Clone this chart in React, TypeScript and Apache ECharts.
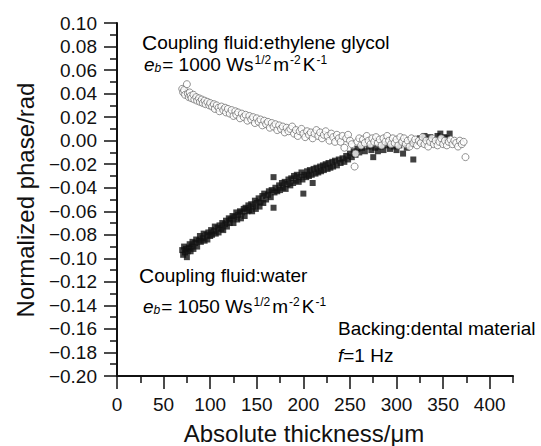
import React, { useEffect, useRef } from "react";
import * as echarts from "echarts";

// Coupling fluid: ethylene glycol (open circles) [thickness µm, phase rad]
const glycolData: number[][] = [
  [70, 0.044], [71, 0.041], [72, 0.043], [73, 0.039], [75, 0.048], [76, 0.040], [77, 0.037],
  [78, 0.041], [79, 0.038], [80, 0.036], [82, 0.039], [83, 0.035], [85, 0.037], [86, 0.034],
  [88, 0.036], [89, 0.033], [91, 0.035], [92, 0.032], [94, 0.034], [95, 0.031], [97, 0.033],
  [99, 0.030], [100, 0.032], [102, 0.029], [104, 0.031], [105, 0.027], [107, 0.030], [109, 0.028],
  [110, 0.025], [112, 0.029], [114, 0.026], [116, 0.028], [117, 0.024], [119, 0.027], [121, 0.023],
  [123, 0.026], [125, 0.021], [127, 0.025], [128, 0.022], [130, 0.024], [132, 0.019], [134, 0.023],
  [136, 0.020], [138, 0.022], [140, 0.017], [142, 0.021], [144, 0.018], [146, 0.020], [148, 0.015],
  [150, 0.019], [152, 0.016], [154, 0.018], [156, 0.013], [158, 0.017], [160, 0.014], [162, 0.016],
  [164, 0.011], [166, 0.015], [168, 0.012], [170, 0.014], [172, 0.009], [174, 0.013], [176, 0.010],
  [178, 0.012], [180, 0.007], [182, 0.011], [184, 0.008], [186, 0.010], [188, 0.012], [190, 0.006],
  [192, 0.009], [194, 0.004], [196, 0.008], [198, 0.010], [200, 0.006], [202, 0.003], [204, 0.008],
  [206, 0.005], [208, 0.007], [210, 0.002], [212, 0.006], [214, 0.009], [216, 0.004], [218, 0.007],
  [220, 0.002], [222, 0.005], [224, 0.008], [226, 0.004], [228, 0.000], [230, 0.006], [232, 0.003],
  [234, -0.001], [236, 0.005], [238, 0.002], [240, -0.001], [242, 0.004], [244, -0.006], [246, 0.002],
  [248, 0.005], [250, 0.000], [252, -0.003], [255, -0.022], [256, -0.011], [258, -0.001], [260, 0.002],
  [262, -0.004], [264, 0.001], [266, -0.002], [268, 0.004], [270, 0.000], [272, -0.003], [274, 0.002],
  [276, -0.001], [278, 0.003], [280, -0.002], [282, 0.001], [284, -0.004], [286, 0.002], [288, -0.001],
  [290, 0.004], [292, 0.000], [294, -0.003], [296, 0.002], [298, -0.002], [300, 0.001], [302, -0.004],
  [304, 0.003], [306, -0.001], [308, 0.002], [310, -0.003], [312, 0.000], [314, -0.005], [316, 0.002],
  [318, -0.002], [320, 0.001], [322, -0.004], [324, 0.000], [326, -0.002], [328, 0.003], [330, -0.003],
  [332, 0.000], [334, -0.005], [336, -0.001], [338, 0.002], [340, -0.003], [342, 0.000], [344, -0.004],
  [346, -0.001], [348, 0.002], [350, -0.003], [352, 0.000], [354, -0.004], [356, -0.001], [358, 0.001],
  [360, -0.003], [362, 0.000], [364, -0.002], [366, -0.005], [368, 0.000], [370, -0.003], [372, -0.001],
  [374, -0.014],
];

// Coupling fluid: water (filled squares)
const waterData: number[][] = [
  [70, -0.093], [71, -0.097], [72, -0.090], [73, -0.095], [74, -0.092], [75, -0.099], [76, -0.094],
  [77, -0.091], [78, -0.088], [79, -0.094], [80, -0.090], [81, -0.086], [82, -0.092], [84, -0.087],
  [85, -0.084], [86, -0.090], [88, -0.085], [89, -0.081], [90, -0.086], [92, -0.083], [93, -0.079],
  [94, -0.085], [96, -0.080], [97, -0.084], [98, -0.078], [100, -0.081], [101, -0.076], [102, -0.080],
  [104, -0.077], [105, -0.073], [106, -0.079], [108, -0.074], [109, -0.078], [110, -0.072], [112, -0.075],
  [113, -0.070], [114, -0.076], [116, -0.071], [117, -0.068], [118, -0.073], [120, -0.066], [121, -0.070],
  [122, -0.067], [124, -0.064], [125, -0.070], [126, -0.065], [128, -0.061], [129, -0.067], [130, -0.063],
  [132, -0.060], [133, -0.066], [134, -0.061], [136, -0.058], [137, -0.064], [138, -0.057], [140, -0.060],
  [141, -0.055], [142, -0.059], [144, -0.054], [145, -0.060], [146, -0.056], [148, -0.051], [149, -0.058],
  [150, -0.053], [152, -0.049], [153, -0.056], [154, -0.052], [156, -0.047], [157, -0.053], [158, -0.045],
  [160, -0.050], [162, -0.046], [163, -0.043], [165, -0.048], [166, -0.042], [168, -0.031], [168, -0.057],
  [169, -0.044], [170, -0.040], [172, -0.043], [174, -0.038], [175, -0.042], [177, -0.036], [178, -0.040],
  [180, -0.035], [181, -0.041], [183, -0.037], [184, -0.033], [186, -0.038], [187, -0.032], [189, -0.036],
  [190, -0.030], [192, -0.034], [193, -0.029], [195, -0.035], [196, -0.031], [198, -0.027], [199, -0.033],
  [200, -0.045], [201, -0.029], [203, -0.031], [204, -0.026], [206, -0.030], [207, -0.025], [209, -0.029],
  [210, -0.036], [211, -0.024], [213, -0.028], [214, -0.023], [216, -0.027], [218, -0.022], [219, -0.026],
  [221, -0.021], [222, -0.025], [224, -0.020], [226, -0.024], [227, -0.019], [229, -0.023], [231, -0.018],
  [232, -0.022], [234, -0.017], [236, -0.021], [238, -0.016], [240, -0.019], [242, -0.015], [244, -0.018],
  [246, -0.013], [248, -0.016], [250, -0.011], [252, -0.014], [254, -0.009], [256, -0.012], [258, -0.007],
  [260, -0.010], [263, -0.006], [266, -0.009], [270, -0.005], [273, -0.008], [275, -0.014], [277, -0.006],
  [280, -0.009], [283, -0.005], [286, -0.008], [290, -0.004], [293, -0.007], [297, -0.005], [300, -0.008],
  [303, -0.004], [307, -0.011], [311, -0.006], [315, -0.003], [318, -0.016], [322, -0.001], [325, 0.002],
  [328, -0.001], [330, 0.004], [333, 0.001], [336, 0.003], [340, 0.000], [344, 0.004], [347, 0.006],
  [351, 0.003], [354, 0.002], [357, 0.006],
];

const xMajorTicks = [0, 50, 100, 150, 200, 250, 300, 350, 400];
const xMinorTicks = [25, 75, 125, 175, 225, 275, 325, 375, 425];
const xMin = 0;
const xMax = 425;
const yMin = -0.2;
const yMax = 0.1;
const yStep = 0.02;

const xTitle = "Absolute thickness/\u03bcm";
const yTitle = "Normalized phase/rad";

const FONT = "'Liberation Sans', Arial, Helvetica, sans-serif";

const richStyles = {
  c: { fontSize: 21, fontFamily: FONT, color: "#111", lineHeight: 20 },
  t: { fontSize: 19, fontFamily: FONT, color: "#111", lineHeight: 20 },
  i: { fontSize: 19, fontFamily: FONT, color: "#111", fontStyle: "italic", lineHeight: 20 },
  sb: { fontSize: 12, fontFamily: FONT, color: "#111", fontStyle: "italic", lineHeight: 9, verticalAlign: "bottom", padding: [0, 1, 0, 0] },
  sp: { fontSize: 12, fontFamily: FONT, color: "#111", lineHeight: 11, verticalAlign: "top", padding: [0, 2, 0, 1] },
};

export default function App() {
  const ref = useRef<HTMLDivElement>(null);

  useEffect(() => {
    const chart = echarts.init(ref.current!, null, { renderer: "svg" });
    const axisColor = "#111";
    const ebLine = (v: string) =>
      `{i|e}{sb|b}{t|= ${v} Ws}{sp|1/2}{t|m}{sp|-2}{t|K}{sp|-1}`;

    chart.setOption({
      animation: false,
      backgroundColor: "#fff",
      grid: { left: 117, right: 28, top: 23, bottom: 70, containLabel: false },
      xAxis: [
        {
          type: "value",
          min: xMin,
          max: xMax,
          position: "bottom",
          axisLine: { show: true, onZero: false, lineStyle: { color: axisColor, width: 2 } },
          axisTick: { show: true, customValues: xMajorTicks, length: 13, lineStyle: { color: axisColor, width: 1.5 } },
          axisLabel: {
            customValues: xMajorTicks,
            fontSize: 19,
            fontFamily: FONT,
            color: "#111",
            margin: 19,
          },
          splitLine: { show: false },
        },
        {
          type: "value",
          min: xMin,
          max: xMax,
          position: "bottom",
          axisLine: { show: false, onZero: false },
          axisTick: { show: true, customValues: xMinorTicks, length: 7, lineStyle: { color: axisColor, width: 1.5 } },
          axisLabel: { show: false },
          splitLine: { show: false },
        },
      ],
      yAxis: {
        type: "value",
        min: yMin,
        max: yMax,
        interval: yStep,
        axisLine: { show: true, onZero: false, lineStyle: { color: axisColor, width: 2 } },
        axisTick: { show: true, length: 13, lineStyle: { color: axisColor, width: 1.5 } },
        minorTick: { show: true, splitNumber: 2, length: 7, lineStyle: { color: axisColor, width: 1.5 } },
        minorSplitLine: { show: false },
        splitLine: { show: false },
        axisLabel: {
          fontSize: 19,
          fontFamily: FONT,
          color: "#111",
          margin: 20,
          formatter: (v: number) => (v < -1e-9 ? "\u2212" : "") + Math.abs(v).toFixed(2),
        },
      },
      series: [
        {
          type: "scatter",
          name: "water",
          data: waterData,
          symbol: "rect",
          symbolSize: 6,
          itemStyle: { color: "#111" },
          z: 2,
        },
        {
          type: "scatter",
          name: "ethylene glycol",
          data: glycolData,
          symbol: "circle",
          symbolSize: 7,
          itemStyle: { color: "#fff", borderColor: "#666", borderWidth: 0.9 },
          z: 3,
        },
      ],
      graphic: [
        {
          type: "text",
          x: 25,
          y: 200,
          rotation: Math.PI / 2,
          style: { text: yTitle, fontSize: 24, fontFamily: FONT, fill: "#111", align: "center", verticalAlign: "middle" },
        },
        {
          type: "text",
          x: 304,
          y: 433,
          style: { text: xTitle, fontSize: 24, fontFamily: FONT, fill: "#111", align: "center", verticalAlign: "middle" },
        },
        {
          type: "text",
          x: 142,
          y: 42,
          style: { text: "{c|C}{t|oupling fluid:ethylene glycol}", rich: richStyles, align: "left", verticalAlign: "middle" },
        },
        {
          type: "text",
          x: 144,
          y: 64,
          style: { text: ebLine("1000"), rich: richStyles, align: "left", verticalAlign: "middle" },
        },
        {
          type: "text",
          x: 139,
          y: 275,
          style: { text: "{c|C}{t|oupling fluid:water}", rich: richStyles, align: "left", verticalAlign: "middle" },
        },
        {
          type: "text",
          x: 143,
          y: 306,
          style: { text: ebLine("1050"), rich: richStyles, align: "left", verticalAlign: "middle" },
        },
        {
          type: "text",
          x: 338,
          y: 328,
          style: { text: "{t|Backing:dental material}", rich: richStyles, align: "left", verticalAlign: "middle" },
        },
        {
          type: "text",
          x: 338,
          y: 355,
          style: { text: "{i|f}{t|=1 Hz}", rich: richStyles, align: "left", verticalAlign: "middle" },
        },
      ],
    });

    return () => chart.dispose();
  }, []);

  return (
    <div
      ref={ref}
      style={{ position: "absolute", left: 0, top: 0, width: 541, height: 446, background: "#fff" }}
    />
  );
}
